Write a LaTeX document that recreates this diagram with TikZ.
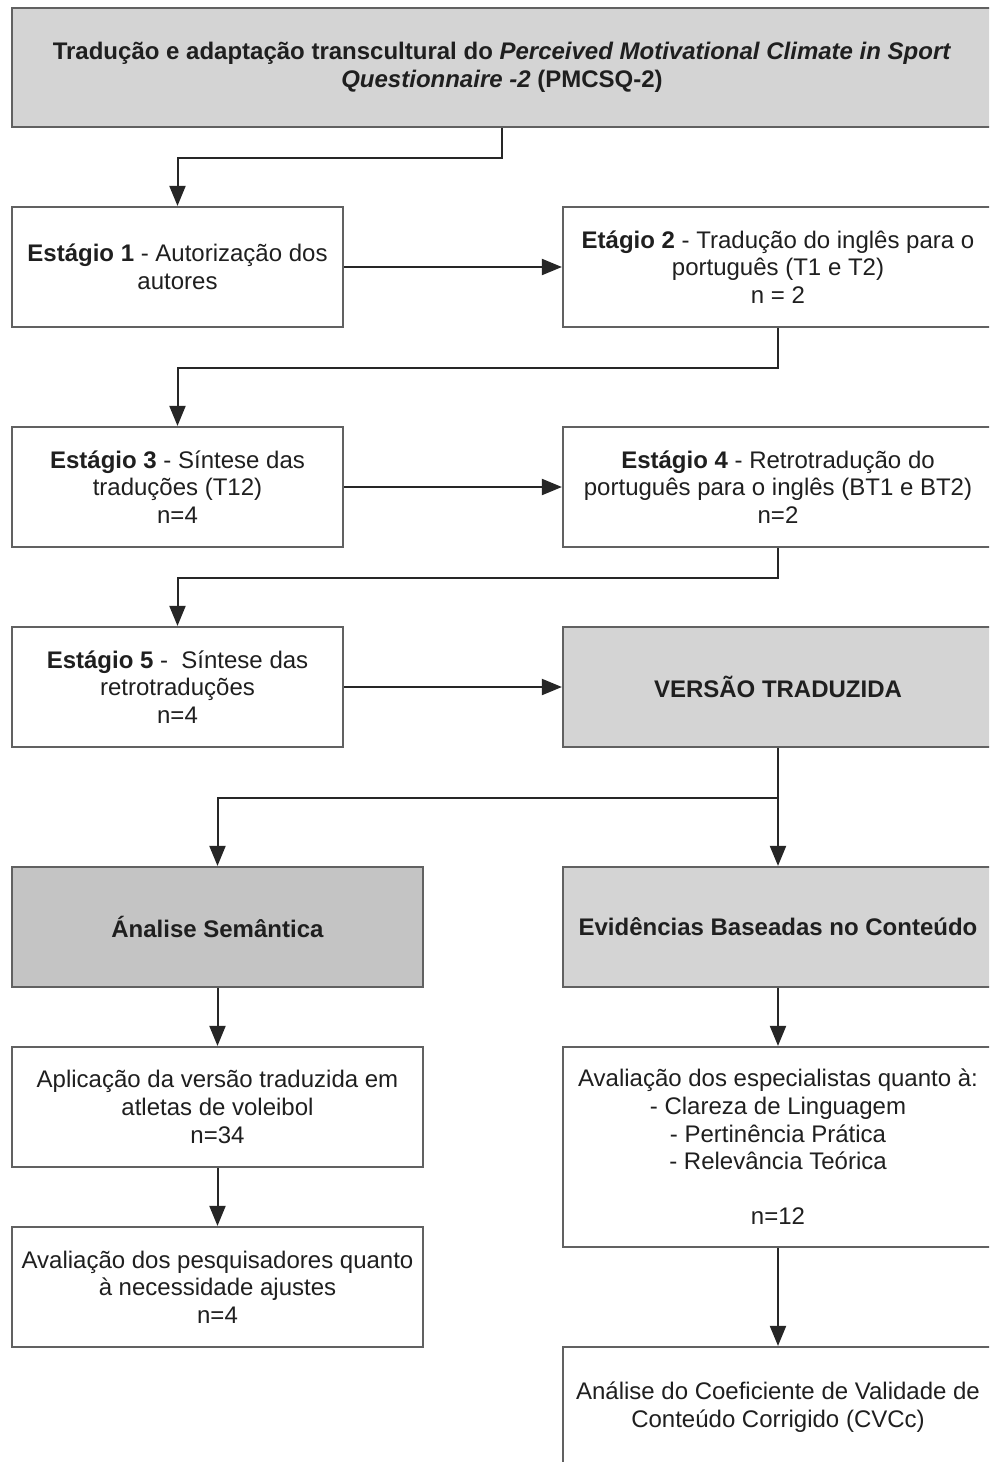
\documentclass[tikz,border=0pt]{standalone}
\usepackage{fontspec}
\setmainfont{Liberation Sans}
\usetikzlibrary{arrows.meta}
\begin{document}
\begin{tikzpicture}[x=1pt,y=-1pt,
  box/.style={draw=black!62, line width=2.2pt, fill=white, align=center, inner sep=0pt,
    font=\fontsize{24}{27.6}\selectfont, text=black!88},
  graybox/.style={box, fill=black!17},
  darkbox/.style={box, fill=black!23},
  conn/.style={draw=black!85, line width=2pt, -{Triangle[length=20pt,width=16pt]}},
]
\useasboundingbox (0,0) rectangle (989,1462);
\clip (0,0) rectangle (989,1462);
\fill[white] (0,0) rectangle (989,1462);

\node[graybox, minimum width=980pt, minimum height=119pt] (top) at (502,67.5)
  {\textbf{Tradução e adaptação transcultural do \textit{Perceived Motivational Climate in Sport}}\\
   \textbf{\textit{Questionnaire -2} (PMCSQ-2)}};

\node[box, minimum width=331pt, minimum height=120pt] (s1) at (177.5,267)
  {\textbf{Estágio 1} - Autorização dos\\autores};
\node[box, minimum width=430pt, minimum height=120pt] (s2) at (778,267)
  {\textbf{Etágio 2} - Tradução do inglês para o\\português (T1 e T2)\\n = 2};

\node[box, minimum width=331pt, minimum height=120pt] (s3) at (177.5,487)
  {\textbf{Estágio 3} - Síntese das\\traduções (T12)\\n=4};
\node[box, minimum width=430pt, minimum height=120pt] (s4) at (778,487)
  {\textbf{Estágio 4} - Retrotradução do\\português para o inglês (BT1 e BT2)\\n=2};

\node[box, minimum width=331pt, minimum height=120pt] (s5) at (177.5,687)
  {\textbf{Estágio 5} -~ Síntese das\\retrotraduções\\n=4};
\node[graybox, minimum width=430pt, minimum height=120pt] (ver) at (778,687)
  {\textbf{VERSÃO TRADUZIDA}};

\node[darkbox, minimum width=411pt, minimum height=120pt] (sem) at (217.5,927)
  {\textbf{Ánalise Semântica}};
\node[graybox, minimum width=430pt, minimum height=120pt] (evi) at (778,927)
  {\textbf{Evidências Baseadas no Conteúdo}};

\node[box, minimum width=411pt, minimum height=120pt] (apl) at (217.5,1107)
  {Aplicação da versão traduzida em\\atletas de voleibol\\n=34};
\node[box, minimum width=411pt, minimum height=120pt] (pes) at (217.5,1287)
  {Avaliação dos pesquisadores quanto\\à necessidade ajustes\\n=4};

\node[box, minimum width=430pt, minimum height=200pt] (esp) at (778,1147)
  {Avaliação dos especialistas quanto à:\\- Clareza de Linguagem\\- Pertinência Prática\\- Relevância Teórica\\[27.6pt]n=12};
\node[box, minimum width=430pt, minimum height=120pt] (cvc) at (778,1407)
  {Análise do Coeficiente de Validade de\\Conteúdo Corrigido (CVCc)};

\draw[conn] (top.south) -- ++(0,30) -| (s1.north);
\draw[conn] (s1.east) -- (s2.west);
\draw[conn] (s2.south) -- ++(0,40) -| (s3.north);
\draw[conn] (s3.east) -- (s4.west);
\draw[conn] (s4.south) -- ++(0,30) -| (s5.north);
\draw[conn] (s5.east) -- (ver.west);
\draw[conn] (ver.south) -- ++(0,50) -| (sem.north);
\draw[conn] (ver.south) -- (evi.north);
\draw[conn] (sem.south) -- (apl.north);
\draw[conn] (apl.south) -- (pes.north);
\draw[conn] (evi.south) -- (esp.north);
\draw[conn] (esp.south) -- (cvc.north);
\end{tikzpicture}
\end{document}
